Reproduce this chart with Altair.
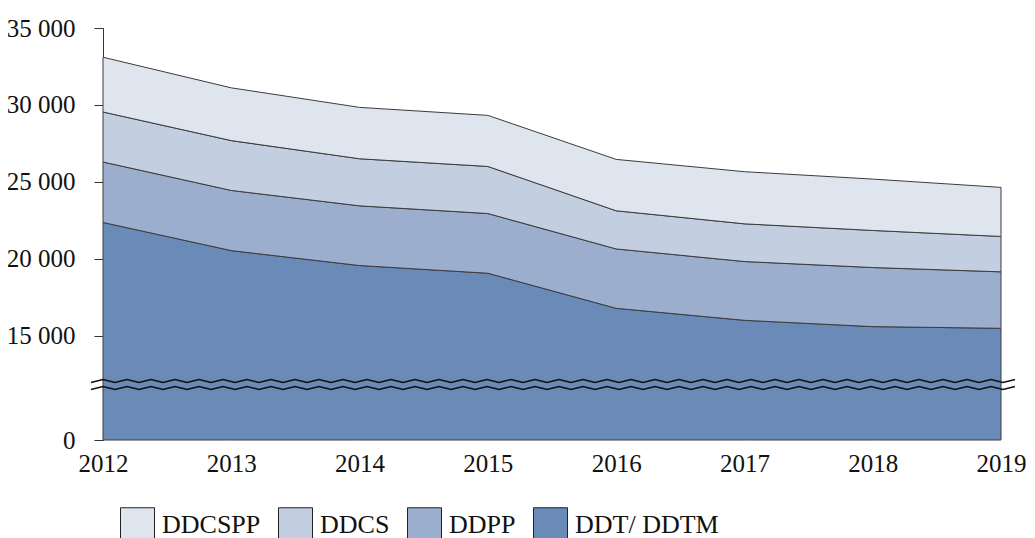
import altair as alt
import pandas as pd
import numpy as np

years = [2012, 2013, 2014, 2015, 2016, 2017, 2018, 2019]
series = ["DDCSPP", "DDCS", "DDPP", "DDT/ DDTM"]
ddt = [22360, 20530, 19560, 19060, 16780, 16000, 15590, 15480]
ddpp = [3930, 3910, 3880, 3880, 3860, 3820, 3840, 3670]
ddcs = [3250, 3240, 3060, 3060, 2480, 2450, 2410, 2300]
ddcspp = [3560, 3430, 3340, 3320, 3340, 3390, 3340, 3190]
colors = ["#dfe5ef", "#c3cee1", "#9caecd", "#6a8ab8"]
y_ticks = [0, 15000, 20000, 25000, 30000, 35000]

# stack rank: 0 = bottom
values = {"DDT/ DDTM": ddt, "DDPP": ddpp, "DDCS": ddcs, "DDCSPP": ddcspp}
rank = {"DDT/ DDTM": 0, "DDPP": 1, "DDCS": 2, "DDCSPP": 3}
rows = []
for s, vals in values.items():
    for yr, v in zip(years, vals):
        rows.append({"year": yr, "series": s, "value": v, "rank": rank[s]})
df = pd.DataFrame(rows)

# axis-break zigzag decoration (two wavy lines in the compressed zone)
W, H = 898, 412
px_per_year = W / 7
break_levels = [8485, 7478]
amp = 216
zz = []
for i, lvl in enumerate(break_levels):
    for k, off in enumerate(range(-12, 913, 12)):
        zz.append({"year": 2012 + off / px_per_year,
                   "value": lvl + (amp if (off // 12) % 2 == 0 else -amp),
                   "line": i})
zdf = pd.DataFrame(zz)

FONT = "Liberation Serif"

x = alt.X("year:Q",
          scale=alt.Scale(domain=[2012, 2019], nice=False, zero=False),
          axis=alt.Axis(values=years, format="d", title=None, grid=False,
                        ticks=False, domain=False, labelFontSize=25,
                        labelPadding=11, labelFont=FONT, labelColor="#111",
                        labelFlush=False))
yscale = alt.Scale(domain=[0, 15000, 35000], range=[H, 307.7, 0],
                   nice=False, zero=False)

area = alt.Chart(df).mark_area(stroke="#3c3c3c", strokeWidth=1,
                               interpolate="linear", opacity=1).encode(
    x=x,
    y=alt.Y("value:Q", stack="zero", scale=yscale,
            axis=alt.Axis(values=y_ticks, title=None, grid=False,
                          tickSize=9, labelPadding=19, labelFontSize=25,
                          labelFont=FONT, labelColor="#111",
                          domainColor="#333", tickColor="#333",
                          labelExpr="replace(format(datum.value, ','), ',', ' ')")),
    color=alt.Color("series:N",
                    scale=alt.Scale(domain=series, range=colors),
                    legend=alt.Legend(title=None, orient="none",
                                      legendX=17, legendY=479,
                                      direction="horizontal",
                                      symbolType="square", symbolSize=1156,
                                      symbolStrokeColor="#222",
                                      symbolStrokeWidth=1,
                                      symbolOpacity=1,
                                      labelFont=FONT, labelFontSize=26,
                                      labelColor="#111",
                                      labelOffset=7, columnPadding=15,
                                      padding=0, labelLimit=300)),
    order=alt.Order("rank:Q", sort="ascending"),
)

zig = alt.Chart(zdf).mark_line(color="#111", strokeWidth=1.6, clip=False).encode(
    x=alt.X("year:Q"),
    y=alt.Y("value:Q"),
    detail="line:N",
)

chart = alt.layer(area, zig).properties(
    width=W, height=H,
    padding={"left": 95, "top": 20, "right": 26, "bottom": 108},
    autosize="none",
).configure_view(stroke=None)

chart.save("out.html", embed_options={"renderer": "svg", "actions": False})
